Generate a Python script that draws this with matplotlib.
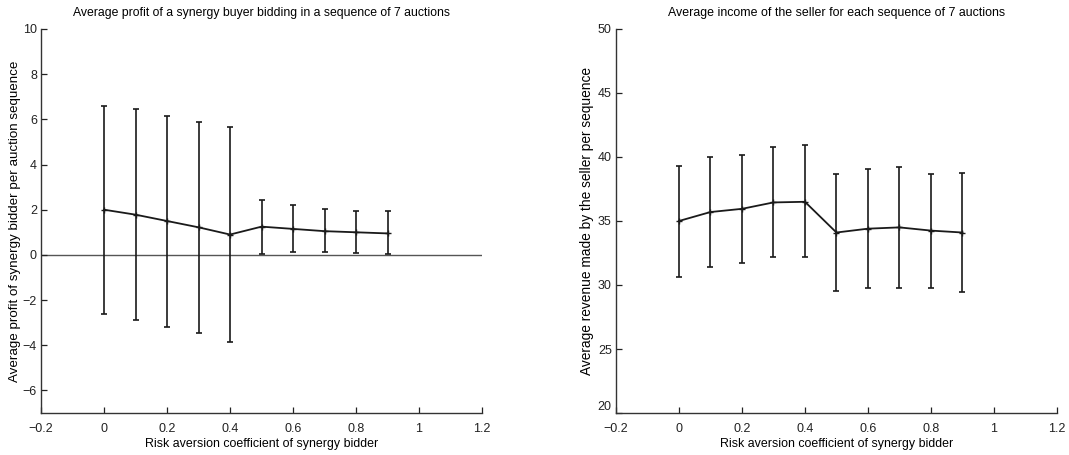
#!/usr/bin/env python3
"""
Two error-bar panels: synergy buyer profit and seller income vs risk aversion.
"""
import numpy as np
import matplotlib
matplotlib.use('Agg')
import matplotlib.pyplot as plt

plt.rcParams['font.family'] = ['Liberation Sans', 'DejaVu Sans']

risk_coef = [0.0, 0.1, 0.2, 0.3, 0.4, 0.5, 0.6, 0.7, 0.8, 0.9]

# left panel: profit of the synergy bidder
profit_mean = [2.0, 1.78, 1.5, 1.22, 0.9, 1.25, 1.15, 1.05, 1.0, 0.95]
profit_upper = [6.6, 6.45, 6.15, 5.9, 5.68, 2.45, 2.2, 2.05, 1.95, 1.95]
profit_lower = [-2.6, -2.9, -3.2, -3.45, -3.85, 0.05, 0.12, 0.12, 0.1, 0.05]

# right panel: revenue of the seller
income_mean = [35.0, 35.7, 35.95, 36.45, 36.5, 34.1, 34.4, 34.5, 34.25, 34.1]
income_upper = [39.3, 40.0, 40.15, 40.8, 40.9, 38.65, 39.1, 39.25, 38.7, 38.75]
income_lower = [30.6, 31.4, 31.75, 32.15, 32.15, 29.55, 29.75, 29.8, 29.8, 29.45]

X_TICKS = [-0.2, 0, 0.2, 0.4, 0.6, 0.8, 1, 1.2]
X_LABELS = ['\u22120.2', '0', '0.2', '0.4', '0.6', '0.8', '1', '1.2']
INK = '#1a1a1a'


def style_axes(ax):
    ax.spines['top'].set_visible(False)
    ax.spines['right'].set_visible(False)
    for s in ('left', 'bottom'):
        ax.spines[s].set_color('#333333')
        ax.spines[s].set_linewidth(1.0)
    ax.tick_params(direction='in', length=4, width=0.9, labelsize=9,
                   colors='#222222')
    ax.tick_params(axis='x', pad=7)
    ax.tick_params(axis='y', pad=3)
    ax.set_xlim(-0.2, 1.2)
    ax.set_xticks(X_TICKS)
    ax.set_xticklabels(X_LABELS)
    ax.set_xlabel('Risk aversion coefficient of synergy bidder', fontsize=8.9,
                  labelpad=2)


def draw_errorbars(ax, mean, lower, upper):
    mean = np.array(mean)
    yerr = np.vstack([mean - np.array(lower), np.array(upper) - mean])
    ax.errorbar(risk_coef, mean, yerr=yerr, color=INK, linewidth=1.3,
                elinewidth=1.2, capsize=2.5, capthick=1.2,
                marker='+', markersize=4)


fig = plt.figure(figsize=(10.69, 4.55), dpi=100)
ax1 = fig.add_axes([0.0384, 0.0923, 0.4125, 0.844])
ax2 = fig.add_axes([0.5762, 0.0923, 0.4125, 0.844])

# left
ax1.axhline(0, color='#555555', linewidth=1.0, zorder=1)
draw_errorbars(ax1, profit_mean, profit_lower, profit_upper)
style_axes(ax1)
ax1.set_ylim(-7, 10)
ax1.set_yticks([-6, -4, -2, 0, 2, 4, 6, 8, 10])
ax1.set_yticklabels(['\u22126', '\u22124', '\u22122', '0', '2', '4', '6', '8', '10'])
ax1.set_ylabel('Average profit of synergy bidder per auction sequence',
               fontsize=9.6, labelpad=1)
ax1.set_title('Average profit of a synergy buyer bidding in a sequence of 7 auctions',
              fontsize=8.8, pad=9)

# right
draw_errorbars(ax2, income_mean, income_lower, income_upper)
style_axes(ax2)
ax2.set_ylim(20, 50)
ax2.set_yticks([20, 25, 30, 35, 40, 45, 50])
ax2.set_yticklabels(['20', '25', '30', '35', '40', '45', '50'])
ax2.get_yticklabels()[0].set_va('bottom')
ax2.set_ylabel('Average revenue made by the seller per sequence',
               fontsize=9.9, labelpad=3)
ax2.set_title('Average income of the seller for each sequence of 7 auctions',
              fontsize=8.9, pad=9)

fig.savefig('out.png', dpi=100)
plt.close(fig)
